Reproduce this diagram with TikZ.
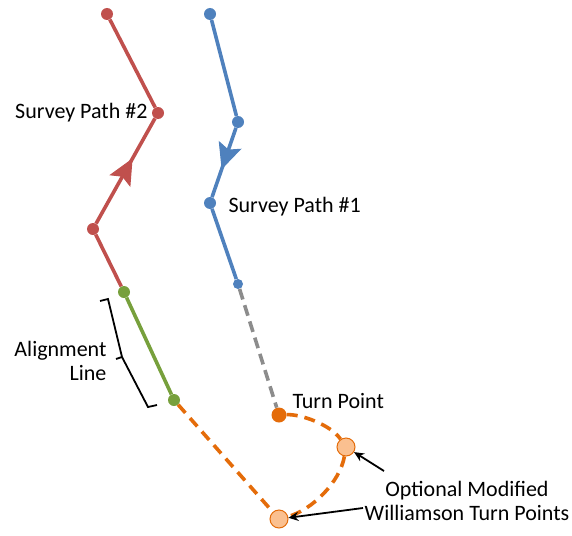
\documentclass[tikz,border=0pt]{standalone}
\usepackage{fontspec}
\setmainfont{Carlito}
\usepackage{tikz}
\usetikzlibrary{arrows.meta,decorations.markings}
\definecolor{pathred}{HTML}{C0504D}
\definecolor{pathblue}{HTML}{4F81BD}
\definecolor{aligngreen}{HTML}{77A03C}
\definecolor{turnorange}{HTML}{E46C0A}
\definecolor{turnlight}{HTML}{FAC090}

\begin{document}
\begin{tikzpicture}[x=1pt,y=-1pt,
  every node/.style={font=\fontsize{22}{24}\selectfont, text=black},
  dot/.style={circle, inner sep=0pt, minimum size=12pt},
  track/.style={line width=3.6pt},
  midarrow/.style={postaction={decorate}, decoration={markings,
    mark=at position #1 with {\arrow[line width=1pt]{Stealth[length=26pt,width=24pt,inset=5pt]}}}},
  orangedash/.style={turnorange, line width=3.6pt, dash pattern=on 11pt off 7pt}]

  \useasboundingbox (0,0) rectangle (572,535);

  % ── Survey Path #2 (red) ──────────────────────────────────────
  \node[dot, fill=pathred] (r1) at (107,14) {};
  \node[dot, fill=pathred] (r2) at (158,113) {};
  \node[dot, fill=pathred] (r3) at (93,229) {};
  \draw[track, pathred] (r1) -- (r2);
  \draw[track, pathred, midarrow=0.62] (r3) -- (r2);
  \node[anchor=east] (lbl2) at (151,113) {Survey Path \#2};

  % ── Alignment line (green) ────────────────────────────────────
  \node[dot, fill=aligngreen] (g1) at (124,292) {};
  \node[dot, fill=aligngreen] (g2) at (174,400) {};
  \draw[track, pathred] (r3) -- (g1);
  \draw[track, aligngreen] (g1) -- (g2);
  \draw[line width=1.8pt, black] (100,301) -- (108,299) -- (122,357) -- (116,359)
    (122,357) -- (148,407) -- (157,405);
  \node[anchor=east, align=right] (lblalign) at (110,361) {Alignment\\Line};

  % ── Survey Path #1 (blue) ─────────────────────────────────────
  \node[dot, fill=pathblue] (b1) at (210,14) {};
  \node[dot, fill=pathblue] (b2) at (238,122) {};
  \node[dot, fill=pathblue] (b3) at (210,203) {};
  \node[dot, fill=pathblue, minimum size=10pt] (b4) at (238,284) {};
  \draw[track, pathblue] (b1) -- (b2);
  \draw[track, pathblue] (b3) -- (b4);
  \draw[track, pathblue, midarrow=0.6] (b2) -- (b3);
  \node[anchor=west] (lbl1) at (225,207) {Survey Path \#1};

  % ── Turn point and Williamson turn ────────────────────────────
  \node[dot, fill=turnorange, minimum size=15pt] (tp) at (279,415) {};
  \node[dot, fill=turnlight, draw=turnorange, line width=1pt, minimum size=18pt] (w1) at (346,447) {};
  \node[dot, fill=turnlight, draw=turnorange, line width=1pt, minimum size=18pt] (w2) at (279,519) {};
  \draw[gray!90, line width=3.6pt, dash pattern=on 11pt off 6pt] (b4) -- (tp);
  \draw[orangedash] (tp) .. controls (300,414) and (330,424) .. (w1);
  \draw[orangedash] (w1) .. controls (340,482) and (312,510) .. (w2);
  \draw[orangedash] (g2) -- (w2);
  \node[anchor=west] (lbltp) at (289,401) {Turn Point};

  % ── Optional turn points label ────────────────────────────────
  \node[align=center] (lblopt) at (467,501) {Optional Modified\\Williamson Turn Points};
  \coordinate (a1) at (384,471);
  \coordinate (a2) at (363,508);
  \draw[-{Stealth[length=10pt,width=9pt]}, line width=1.8pt] (a1) -- (w1);
  \draw[-{Stealth[length=10pt,width=9pt]}, line width=1.8pt] (a2) -- (w2);

\end{tikzpicture}
\end{document}
